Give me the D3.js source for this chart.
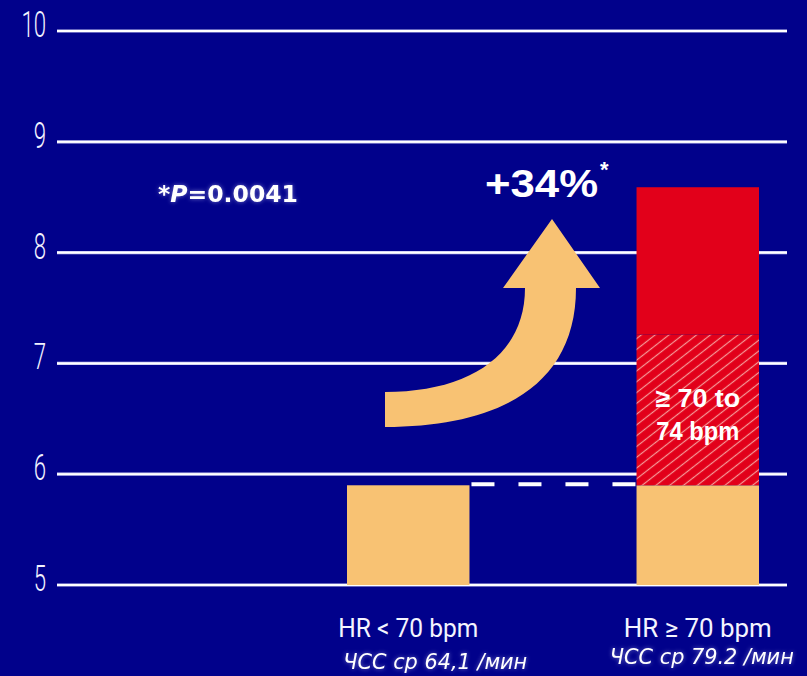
<!DOCTYPE html>
<html lang="ru">
<head>
<meta charset="UTF-8">
<title>ЧСС</title>
<script src="https://cdn.jsdelivr.net/npm/d3@7"></script>
<style>
  html, body { margin: 0; padding: 0; background: #01018b; }
  svg { display: block; }
</style>
</head>
<body>
<svg id="chart" width="807" height="676"></svg>
<script>
// данные
const categories = ["HR < 70 bpm", "HR \u2265 70 bpm"];
const subLabels = ["ЧСС ср 64,1 /мин", "ЧСС ср 79.2 /мин"];
const baseValues = [5.9, 5.9];        // оранжевая часть
const band70to74 = [0, 1.36];         // заштрихованная часть
const bandAbove74 = [0, 1.33];        // сплошная красная
const yTicks = [5, 6, 7, 8, 9, 10];

const W = 807, H = 676;
const svg = d3.select('#chart');

svg.append('rect').attr('width', W).attr('height', H).attr('fill', '#01018b');

const defs = svg.append('defs');
const hatch = defs.append('pattern')
    .attr('id', 'hatch')
    .attr('patternUnits', 'userSpaceOnUse')
    .attr('width', 8.5).attr('height', 8.5)
    .attr('patternTransform', 'rotate(-38)');
hatch.append('rect').attr('width', 8.5).attr('height', 8.5).attr('fill', '#e2001a');
hatch.append('line')
    .attr('x1', 0).attr('y1', 4.25).attr('x2', 8.5).attr('y2', 4.25)
    .attr('stroke', '#f59a98').attr('stroke-width', 1.2);

// мягкое свечение текста
const glow = defs.append('filter').attr('id', 'glow')
    .attr('x', '-10%').attr('y', '-30%').attr('width', '120%').attr('height', '160%');
glow.append('feGaussianBlur').attr('in', 'SourceAlpha').attr('stdDeviation', 2.2).attr('result', 'b');
glow.append('feFlood').attr('flood-color', '#d8d8ff').attr('flood-opacity', 0.5);
glow.append('feComposite').attr('in2', 'b').attr('operator', 'in').attr('result', 'g');
const merge = glow.append('feMerge');
merge.append('feMergeNode').attr('in', 'g');
merge.append('feMergeNode').attr('in', 'SourceGraphic');

// шкалы
const y = d3.scaleLinear().domain([5, 10]).range([585, 31]);
const x = d3.scaleBand().domain(categories).range([347, 759]).paddingInner(0.577);
const gridX0 = 57, gridX1 = 787;

// сетка
svg.append('g').selectAll('line')
    .data(yTicks).join('line')
    .attr('x1', gridX0).attr('x2', gridX1)
    .attr('y1', d => y(d)).attr('y2', d => y(d))
    .attr('stroke', '#c9c9f2').attr('stroke-width', 3.2);
svg.append('g').selectAll('line')
    .data(yTicks).join('line')
    .attr('x1', gridX0).attr('x2', gridX1)
    .attr('y1', d => y(d)).attr('y2', d => y(d))
    .attr('stroke', '#ffffff').attr('stroke-width', 1.8);

// подписи оси Y (узкий светлый шрифт)
svg.append('g').selectAll('text')
    .data(yTicks).join('text')
    .attr('transform', d => `translate(46,${y(d) + 6}) scale(0.6,1)`)
    .attr('text-anchor', 'end')
    .attr('font-family', 'Roboto, "Liberation Sans", sans-serif')
    .attr('font-weight', 300)
    .attr('font-size', 37)
    .attr('fill', '#f2f2ff')
    .text(d => d);

// пунктир от первого столбца
svg.append('line')
    .attr('x1', x(categories[0]) + x.bandwidth() + 2)
    .attr('x2', x(categories[1]))
    .attr('y1', y(baseValues[0]) - 1).attr('y2', y(baseValues[0]) - 1)
    .attr('stroke', '#ffffff').attr('stroke-width', 4)
    .attr('stroke-dasharray', '23 24');

// столбцы
const rows = categories.map((c, i) => ({
    cat: c,
    segs: [
        { y0: 5, y1: baseValues[i], fill: '#f8c273' },
        { y0: baseValues[i], y1: baseValues[i] + band70to74[i], fill: 'url(#hatch)' },
        { y0: baseValues[i] + band70to74[i], y1: baseValues[i] + band70to74[i] + bandAbove74[i], fill: '#e2001a' }
    ].filter(s => s.y1 > s.y0)
}));

const barG = svg.append('g');
rows.forEach(r => {
    barG.selectAll(null)
        .data(r.segs).join('rect')
        .attr('x', x(r.cat))
        .attr('width', x.bandwidth())
        .attr('y', d => y(d.y1))
        .attr('height', d => y(d.y0) - y(d.y1))
        .attr('fill', d => d.fill);
});

// подпись внутри заштрихованной части
const cx2 = x(categories[1]) + x.bandwidth() / 2;
const hatchText = svg.append('text')
    .attr('text-anchor', 'middle')
    .attr('font-family', '"Liberation Sans Narrow", "Liberation Sans", Arial, sans-serif')
    .attr('font-weight', 'bold')
    .attr('font-size', 26)
    .attr('fill', '#ffffff');
hatchText.append('tspan').attr('x', cx2).attr('y', 407).attr('textLength', 85)
    .attr('lengthAdjust', 'spacingAndGlyphs').text('\u2265 70 to');
hatchText.append('tspan').attr('x', cx2).attr('y', 440).attr('textLength', 83)
    .attr('lengthAdjust', 'spacingAndGlyphs').text('74 bpm');

// изогнутая стрелка
const arrow = d3.path();
arrow.moveTo(385, 427);
arrow.bezierCurveTo(500, 427, 576, 385, 576, 288);
arrow.lineTo(600, 288);
arrow.lineTo(552, 219);
arrow.lineTo(503, 288);
arrow.lineTo(525, 288);
arrow.bezierCurveTo(525, 355, 470, 392, 385, 392);
arrow.closePath();
svg.append('path').attr('d', arrow.toString()).attr('fill', '#f8c273');

// +34%*
svg.append('text')
    .attr('x', 485).attr('y', 197)
    .attr('font-family', '"Liberation Sans Narrow", "Liberation Sans", Arial, sans-serif')
    .attr('font-weight', 'bold')
    .attr('font-size', 38)
    .attr('fill', '#ffffff')
    .attr('textLength', 113).attr('lengthAdjust', 'spacingAndGlyphs')
    .text('+34%');
svg.append('text')
    .attr('x', 600).attr('y', 177)
    .attr('font-family', '"Liberation Sans", Arial, sans-serif')
    .attr('font-weight', 'bold')
    .attr('font-size', 22)
    .attr('fill', '#ffffff')
    .text('*');

// *P=0.0041
const pText = svg.append('text')
    .attr('x', 158).attr('y', 202)
    .attr('font-family', '"DejaVu Sans", Verdana, sans-serif')
    .attr('font-weight', 'bold')
    .attr('font-size', 23)
    .attr('fill', '#ffffff')
    .attr('textLength', 140).attr('lengthAdjust', 'spacingAndGlyphs')
    .attr('filter', 'url(#glow)');
pText.append('tspan').text('*');
pText.append('tspan').attr('font-style', 'italic').text('P');
pText.append('tspan').text('=0.0041');

// подписи категорий
svg.append('g').selectAll('text')
    .data(categories).join('text')
    .attr('x', d => x(d) + x.bandwidth() / 2)
    .attr('y', 637)
    .attr('text-anchor', 'middle')
    .attr('font-family', 'Roboto, "Liberation Sans", sans-serif')
    .attr('font-size', 26)
    .attr('fill', '#f4f4ff')
    .attr('textLength', (d, i) => i === 0 ? 140 : 148)
    .attr('lengthAdjust', 'spacingAndGlyphs')
    .text(d => d);

const subDx = [27, 4], subY = [669, 664];
svg.append('g').selectAll('text')
    .data(subLabels).join('text')
    .attr('x', (d, i) => x(categories[i]) + x.bandwidth() / 2 + subDx[i])
    .attr('y', (d, i) => subY[i])
    .attr('text-anchor', 'middle')
    .attr('font-family', '"DejaVu Sans", Verdana, sans-serif')
    .attr('font-style', 'italic')
    .attr('font-size', 22)
    .attr('fill', '#ffffff')
    .attr('textLength', 184)
    .attr('lengthAdjust', 'spacingAndGlyphs')
    .attr('filter', 'url(#glow)')
    .text(d => d);
</script>
</body>
</html>
